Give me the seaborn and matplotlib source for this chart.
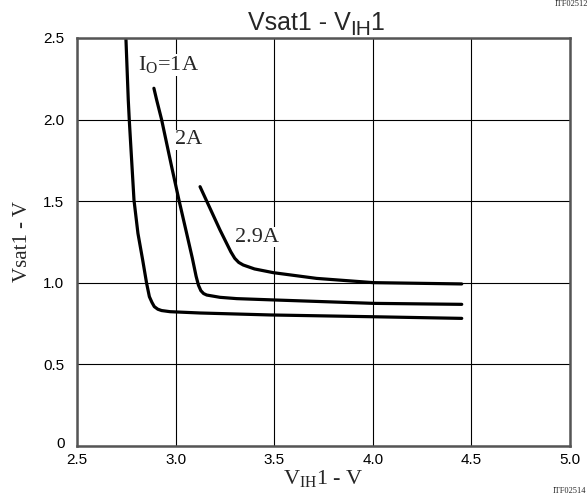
import matplotlib
matplotlib.use('Agg')
import matplotlib.pyplot as plt
import matplotlib.transforms as mtransforms
import seaborn as sns
import pandas as pd

# ── Data ──────────────────────────────────────────────────────────────
vih_1a = [2.748, 2.760, 2.765, 2.774, 2.789, 2.809, 2.833, 2.853, 2.867, 2.880, 2.892,
          2.910, 2.929, 2.972, 3.124, 3.479, 4.003, 4.451]
vsat_1a = [2.50, 2.12, 2.00, 1.814, 1.507, 1.303, 1.140, 0.997, 0.915, 0.880, 0.854,
           0.838, 0.830, 0.823, 0.815, 0.803, 0.792, 0.782]

vih_2a = [2.890, 2.904, 2.929, 2.980, 3.017, 3.056, 3.085, 3.104, 3.116, 3.128, 3.142, 3.158,
          3.225, 3.310, 3.496, 4.003, 4.451]
vsat_2a = [2.192, 2.120, 2.000, 1.711, 1.507, 1.303, 1.150, 1.040, 0.985, 0.952, 0.934, 0.925,
           0.911, 0.903, 0.895, 0.874, 0.868]

vih_29a = [3.124, 3.225, 3.280, 3.300, 3.320, 3.343, 3.400, 3.496, 3.715, 4.003, 4.451]
vsat_29a = [1.589, 1.324, 1.190, 1.150, 1.125, 1.109, 1.085, 1.062, 1.027, 1.001, 0.993]

x_ticks = [2.5, 3.0, 3.5, 4.0, 4.5, 5.0]
y_ticks = [0, 0.5, 1.0, 1.5, 2.0, 2.5]
y_tick_labels = ['0', '0.5', '1.0', '1.5', '2.0', '2.5']

curves = pd.concat([
    pd.DataFrame({'vih': vih_1a, 'vsat': vsat_1a, 'io': '1A'}),
    pd.DataFrame({'vih': vih_2a, 'vsat': vsat_2a, 'io': '2A'}),
    pd.DataFrame({'vih': vih_29a, 'vsat': vsat_29a, 'io': '2.9A'}),
])

# ── Style ─────────────────────────────────────────────────────────────
sns.set_style('white')
plt.rcParams['font.family'] = ['Liberation Sans', 'DejaVu Sans']
plt.rcParams['mathtext.fontset'] = 'custom'
plt.rcParams['mathtext.rm'] = 'Liberation Serif'
plt.rcParams['mathtext.sf'] = 'Liberation Sans'

SERIF = ['Liberation Serif', 'DejaVu Serif']
W, H = 588, 499

fig = plt.figure(figsize=(W / 100, H / 100), dpi=100)
ax = fig.add_axes([77 / W, 1 - 446 / H, 493 / W, 408 / H])

for io, grp in curves.groupby('io', sort=False):
    sns.lineplot(data=grp, x='vih', y='vsat', ax=ax, color='black',
                 linewidth=2.3, sort=False, estimator=None, legend=False)

ax.set_xlim(2.5, 5.0)
ax.set_ylim(0, 2.5)
ax.set_xticks(x_ticks)
ax.set_xticklabels([f'{t:.1f}' for t in x_ticks])
ax.set_yticks(y_ticks)
ax.set_yticklabels(y_tick_labels)
ax.tick_params(length=0, labelsize=11, colors='black')
ax.tick_params(axis='y', pad=9)
ax.tick_params(axis='x', pad=5)
ax.grid(True, color='black', linewidth=0.8)
for s in ax.spines.values():
    s.set_color('#555555')
    s.set_linewidth(1.8)

# lift the "0" label a bit so it does not touch the "2.5" on the x axis
zero_lbl = ax.get_yticklabels()[0]
zero_lbl.set_transform(zero_lbl.get_transform() +
                       mtransforms.ScaledTranslation(0, 4 / 100, fig.dpi_scale_trans))

ax.set_xlabel(r'$\mathrm{V_{IH}1}$ - V', fontsize=16, family=SERIF, labelpad=1)
ax.set_ylabel('Vsat1 - V', fontsize=15, family=SERIF, labelpad=8)

# ── Title built from pieces (big subscript like the reference) ───────
pieces = [('Vsat1 - V', 18, 0), ('IH', 15, -5), ('1', 18, 0)]
renderer = fig.canvas.get_renderer()
widths = []
for txt, size, _ in pieces:
    t = fig.text(0, 0, txt, fontsize=size)
    widths.append(t.get_window_extent(renderer).width)
    t.remove()
x_px = 317 - sum(widths) / 2
base_px = H - 30
for (txt, size, dy), w in zip(pieces, widths):
    fig.text(x_px / W, (base_px + dy) / H, txt, fontsize=size, va='baseline')
    x_px += w - 1

# curve labels
box = dict(facecolor='white', edgecolor='none', pad=0.5)
ax.text(2.81, 2.335, r'$\mathrm{I_O}$=1A', fontsize=16, family=SERIF, va='center', bbox=box)
ax.text(2.997, 1.875, '2A', fontsize=16, family=SERIF, va='center', bbox=box)
ax.text(3.30, 1.28, '2.9A', fontsize=16, family=SERIF, va='center', bbox=box)

fig.text(588 / W, 1 - 4 / H, 'ITF02512', fontsize=6, family=SERIF, ha='right', va='center')
fig.text(586 / W, 1 - 491 / H, 'ITF02514', fontsize=6, family=SERIF, ha='right', va='center')

fig.savefig('out.png', dpi=100)
